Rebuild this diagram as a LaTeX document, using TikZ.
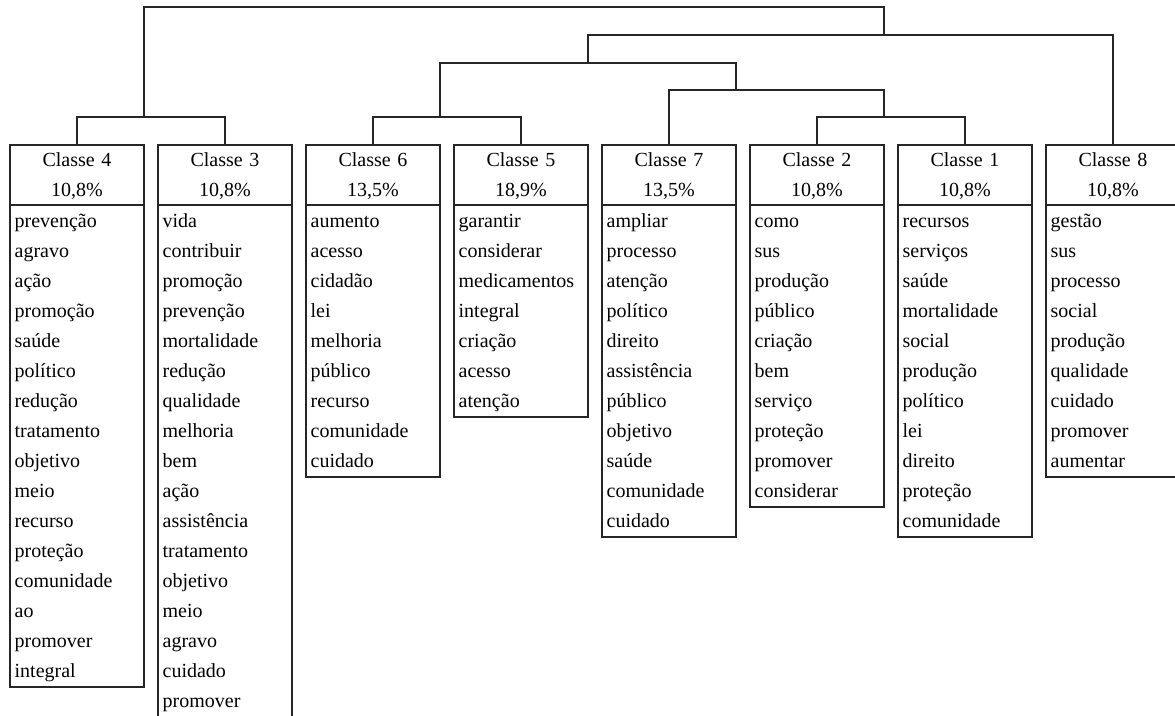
\documentclass[tikz,border=0pt]{standalone}
\usepackage{fontspec}
\setmainfont{Liberation Serif}
\usepackage{tikz}
\usetikzlibrary{positioning}
\tikzstyle{classhead} = [rectangle, draw=black!85, line width=0.9pt, outer sep=0pt, minimum width=100.5pt, minimum height=45pt, inner xsep=3.5pt, inner ysep=0pt, text width=93.5pt, align=center, font=\fontsize{15}{22.5}\selectfont, execute at begin node=\strut, execute at end node=\strut]
\tikzstyle{classlist} = [rectangle, draw=black!85, line width=0.9pt, outer sep=0pt, minimum width=100.5pt, inner xsep=3.5pt, inner ysep=0.75pt, text width=93.5pt, align=left, font=\fontsize{15}{22.5}\selectfont, execute at begin node=\strut, execute at end node=\strut]
\tikzstyle{link} = [draw=black!85, line width=0.9pt]

\begin{document}
\begin{tikzpicture}[x=0.75pt, y=-0.75pt]

    \useasboundingbox (0,0) rectangle (1175,715);

    \node (head4) [classhead] at (77,175) {Classe 4\\10,8\%};

    \node (head3) [classhead, right=10.5pt of head4] {Classe 3\\10,8\%};

    \node (head6) [classhead, right=10.5pt of head3] {Classe 6\\13,5\%};

    \node (head5) [classhead, right=10.5pt of head6] {Classe 5\\18,9\%};

    \node (head7) [classhead, right=10.5pt of head5] {Classe 7\\13,5\%};

    \node (head2) [classhead, right=10.5pt of head7] {Classe 2\\10,8\%};

    \node (head1) [classhead, right=10.5pt of head2] {Classe 1\\10,8\%};

    \node (head8) [classhead, right=10.5pt of head1] {Classe 8\\10,8\%};

    \node (list4) [classlist, below=0pt of head4] {prevenção\\agravo\\ação\\promoção\\saúde\\político\\redução\\tratamento\\objetivo\\meio\\recurso\\proteção\\comunidade\\ao\\promover\\integral};

    \node (list3) [classlist, below=0pt of head3] {vida\\contribuir\\promoção\\prevenção\\mortalidade\\redução\\qualidade\\melhoria\\bem\\ação\\assistência\\tratamento\\objetivo\\meio\\agravo\\cuidado\\promover};

    \node (list6) [classlist, below=0pt of head6] {aumento\\acesso\\cidadão\\lei\\melhoria\\público\\recurso\\comunidade\\cuidado};

    \node (list5) [classlist, below=0pt of head5] {garantir\\considerar\\medicamentos\\integral\\criação\\acesso\\atenção};

    \node (list7) [classlist, below=0pt of head7] {ampliar\\processo\\atenção\\político\\direito\\assistência\\público\\objetivo\\saúde\\comunidade\\cuidado};

    \node (list2) [classlist, below=0pt of head2] {como\\sus\\produção\\público\\criação\\bem\\serviço\\proteção\\promover\\considerar};

    \node (list1) [classlist, below=0pt of head1] {recursos\\serviços\\saúde\\mortalidade\\social\\produção\\político\\lei\\direito\\proteção\\comunidade};

    \node (list8) [classlist, below=0pt of head8] {gestão\\sus\\processo\\social\\produção\\qualidade\\cuidado\\promover\\aumentar};

    % joints of the tree
    \coordinate (j43) at (144,117);
    \coordinate (j65) at (440,117);
    \coordinate (j21) at (884,117);
    \coordinate (j721) at (736,90);
    \coordinate (jmid) at (588,63);
    \coordinate (jright) at (884,35);
    \coordinate (jtop) at (884,7);

    \draw [link] (head4.north) |- (j43) -| (head3.north);

    \draw [link] (head6.north) |- (j65) -| (head5.north);

    \draw [link] (head2.north) |- (j21) -| (head1.north);

    \draw [link] (head7.north) |- (j721) -| (j21);

    \draw [link] (j65) |- (jmid) -| (j721);

    \draw [link] (jmid) |- (jright) -| (head8.north);

    \draw [link] (j43) |- (jtop) -- (jright);

\end{tikzpicture}
\end{document}
